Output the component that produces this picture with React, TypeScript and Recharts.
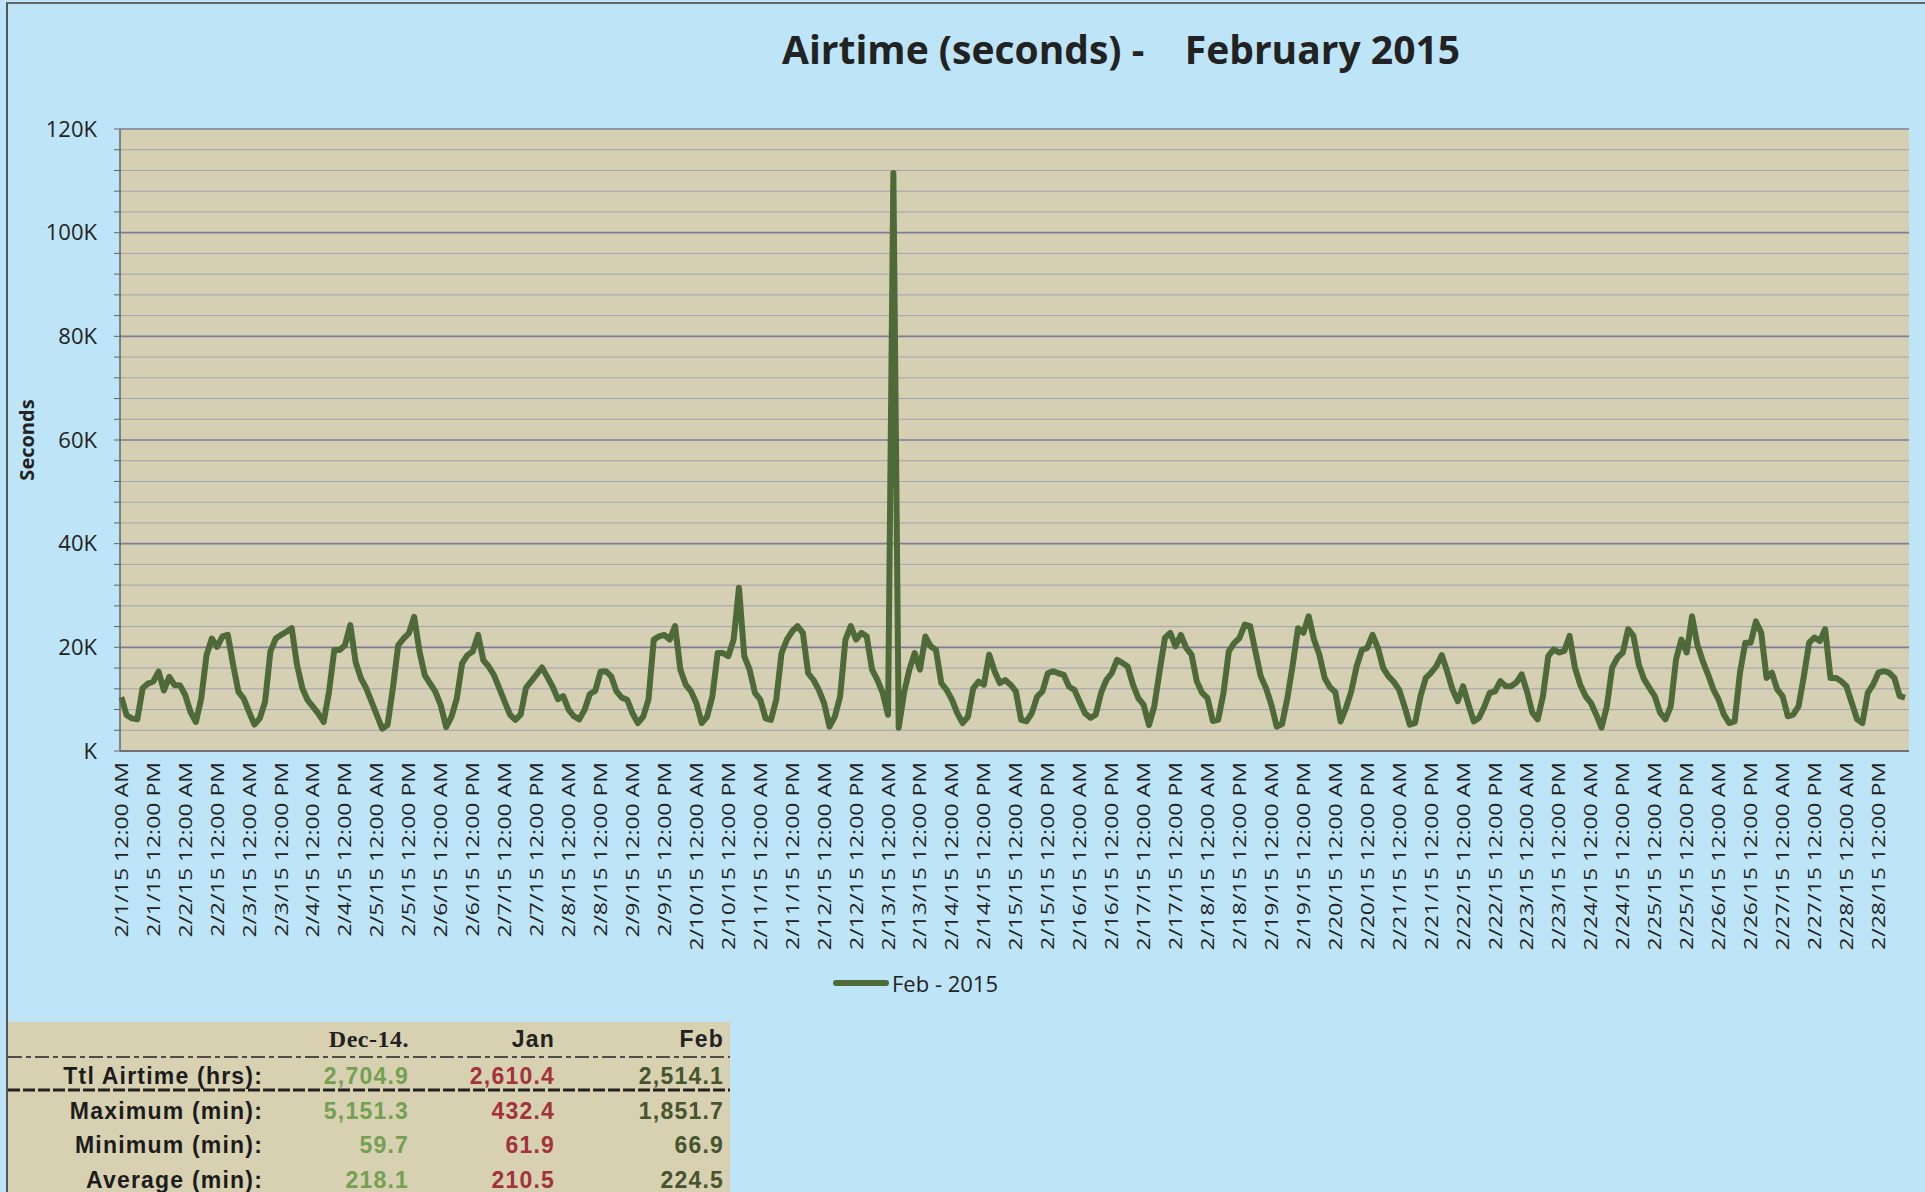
import { CartesianGrid, Legend, Line, LineChart, XAxis, YAxis } from "recharts";

// one label every 12 hours, Feb 1 - Feb 28 2015
const dayCount = 28;
const halfDayNames = ["12:00 AM", "12:00 PM"];
const tickLabels: string[] = [];
for (let d = 1; d <= dayCount; d++) {
  for (const h of halfDayNames) tickLabels.push(`2/${d}/15 ${h}`);
}
const tickHours = tickLabels.map((_, i) => i * 12);

// airtime in thousands of seconds, one reading every 2 hours starting 2/1/15 12:00 AM
// (12 readings per row = one day)
const airtimeK = [
  10.4, 6.9, 6.3, 6.1, 12.1, 13.0, 13.4, 15.3, 11.7, 14.3, 12.7, 12.7,
  10.8, 7.5, 5.6, 10.1, 18.5, 21.7, 20.1, 22.1, 22.4, 16.6, 11.4, 10.1,
  7.5, 5.1, 6.3, 9.5, 19.2, 21.7, 22.4, 23.0, 23.7, 16.6, 12.1, 9.8,
  8.5, 7.2, 5.6, 11.4, 19.5, 19.5, 20.4, 24.3, 17.2, 14.0, 12.1, 9.5,
  6.9, 4.3, 5.0, 12.1, 20.4, 21.7, 22.7, 25.9, 19.2, 14.6, 13.0, 11.4,
  8.8, 4.6, 6.6, 10.1, 16.9, 18.5, 19.2, 22.4, 17.5, 16.3, 14.6, 12.1,
  9.5, 7.0, 6.0, 7.0, 12.2, 13.5, 14.8, 16.1, 14.3, 12.4, 10.0, 10.6,
  8.0, 6.7, 6.1, 7.9, 11.0, 11.6, 15.3, 15.4, 14.4, 11.5, 10.3, 9.9,
  7.3, 5.4, 6.6, 9.9, 21.5, 22.1, 22.4, 21.5, 24.1, 15.7, 12.8, 11.5,
  9.2, 5.4, 6.6, 10.5, 18.9, 18.9, 18.3, 21.5, 31.5, 18.3, 15.7, 11.2,
  9.9, 6.3, 6.0, 9.9, 18.9, 21.5, 23.1, 24.1, 22.8, 15.0, 13.7, 11.8,
  9.2, 4.7, 6.6, 10.5, 21.5, 24.1, 21.5, 22.8, 22.1, 15.7, 13.7, 11.2,
  7.0, 111.5, 4.5, 11.2, 15.7, 18.9, 15.7, 22.1, 20.2, 19.5, 13.1, 11.8,
  9.9, 7.3, 5.4, 6.6, 12.1, 13.4, 12.8, 18.6, 15.4, 13.1, 13.7, 12.8,
  11.5, 6.0, 5.7, 7.3, 10.5, 11.5, 15.0, 15.4, 15.0, 14.7, 12.4, 11.8,
  9.5, 7.3, 6.4, 7.0, 11.2, 13.7, 15.0, 17.6, 17.0, 16.3, 12.8, 10.2,
  8.9, 5.0, 8.6, 15.4, 21.8, 22.8, 20.2, 22.4, 19.9, 18.6, 13.4, 11.2,
  10.2, 5.8, 6.0, 11.2, 19.2, 20.8, 21.8, 24.4, 24.1, 19.2, 14.4, 12.1,
  8.9, 4.7, 5.2, 10.2, 16.6, 23.7, 22.8, 26.0, 21.5, 18.6, 14.1, 12.3,
  11.4, 5.7, 8.3, 11.5, 16.3, 19.5, 19.9, 22.4, 19.9, 16.0, 14.4, 13.3,
  11.8, 8.6, 5.1, 5.4, 10.6, 14.1, 15.1, 16.4, 18.5, 15.4, 11.9, 9.6,
  12.5, 9.0, 5.7, 6.4, 8.6, 11.2, 11.5, 13.5, 12.5, 12.5, 13.2, 14.8,
  11.5, 7.4, 6.1, 10.6, 18.3, 19.6, 19.0, 19.3, 22.2, 16.1, 12.8, 10.6,
  9.3, 7.0, 4.5, 8.6, 16.1, 18.0, 19.0, 23.5, 22.2, 16.7, 13.8, 12.2,
  10.6, 7.4, 6.1, 8.6, 17.7, 21.5, 19.0, 26.0, 20.5, 17.4, 14.8, 11.9,
  9.9, 7.0, 5.4, 5.7, 15.1, 20.9, 20.9, 25.0, 22.8, 14.1, 15.1, 11.9,
  10.6, 6.7, 7.0, 8.6, 14.4, 20.9, 21.9, 21.2, 23.5, 14.1, 14.1, 13.5,
  12.5, 9.3, 6.1, 5.4, 11.2, 12.8, 15.1, 15.4, 15.1, 14.1, 10.6, 10.3,
];
const sampleHours = airtimeK.map((_, i) => i * 2);

const yTicks = [
  0, 4, 8, 12, 16, 20, 24, 28, 32, 36, 40, 44, 48, 52, 56, 60,
  64, 68, 72, 76, 80, 84, 88, 92, 96, 100, 104, 108, 112, 116, 120,
];

const chartData = airtimeK.map((v, i) => ({ hour: sampleHours[i], airtime: v }));

// summary table below the chart
const summaryCols = ["Dec-14.", "Jan", "Feb"];
const summaryRows = [
  { label: "Ttl Airtime (hrs):", values: ["2,704.9", "2,610.4", "2,514.1"] },
  { label: "Maximum (min):", values: ["5,151.3", "432.4", "1,851.7"] },
  { label: "Minimum (min):", values: ["59.7", "61.9", "66.9"] },
  { label: "Average (min):", values: ["218.1", "210.5", "224.5"] },
];
const colColors = ["#74a052", "#a3323c", "#46552e"];

const SANS = "'Open Sans', sans-serif";
const ARIAL = "'Liberation Sans', Arial, sans-serif";
const LINE_COLOR = "#4f6a39";

function TimeTick({ x, y, payload }: any) {
  const label = tickLabels[Math.round(payload.value / 12)];
  return (
    <g transform={`translate(${x},${y + 11})`}>
      <text
        transform="rotate(-90) scale(1.28,1)"
        textAnchor="end"
        dy="0.36em"
        fontFamily={SANS}
        fontSize={18}
        fill="#222"
      >
        {label}
      </text>
    </g>
  );
}

function GridLine(props: any) {
  const major = props.index % 5 === 0;
  return (
    <line
      key={props.key}
      x1={props.x1}
      y1={props.y1}
      x2={props.x2}
      y2={props.y2}
      stroke={major ? "#7f7c95" : "#a4a2b0"}
      strokeWidth={major ? 1.6 : 1}
    />
  );
}

function LegendBox({ payload }: any) {
  return (
    <div style={{ display: "flex", alignItems: "center" }}>
      {(payload || []).map((p: any) => (
        <div key={p.value} style={{ display: "flex", alignItems: "center" }}>
          <svg width={56} height={10}>
            <line x1={3} y1={5} x2={53} y2={5} stroke={p.color} strokeWidth={6} strokeLinecap="round" />
          </svg>
          <span style={{ fontFamily: SANS, fontSize: 22, color: "#222", marginLeft: 3 }}>{p.value}</span>
        </div>
      ))}
    </div>
  );
}

function Separator({ top, thick }: { top: number; thick?: boolean }) {
  return (
    <svg style={{ position: "absolute", left: 0, top }} width={722} height={4}>
      <line
        x1={0}
        y1={2}
        x2={722}
        y2={2}
        stroke="#222"
        strokeWidth={thick ? 3 : 1.6}
        strokeDasharray={thick ? "12 3" : "14 4 5 4"}
      />
    </svg>
  );
}

function SummaryTable() {
  const cols = "255px 146px 146px 169px";
  const rowTops = [1061, 1096, 1130, 1165];
  return (
    <div
      style={{
        position: "absolute",
        left: 8,
        top: 1022,
        width: 722,
        height: 180,
        background: "#d7d1b1",
        fontFamily: ARIAL,
        fontWeight: 700,
        fontSize: 23,
        letterSpacing: 1.2,
      }}
    >
      <div
        style={{
          position: "absolute",
          top: 2,
          left: 0,
          display: "grid",
          gridTemplateColumns: cols,
          lineHeight: "30px",
          textAlign: "right",
          color: "#222",
        }}
      >
        <div />
        {summaryCols.map((c, i) => (
          <div
            key={c}
            style={i === 0 ? { fontFamily: "'Liberation Serif', serif", fontSize: 24, letterSpacing: 0.5 } : {}}
          >
            {c}
          </div>
        ))}
      </div>
      <Separator top={33} />
      <Separator top={66} thick />
      {summaryRows.map((r, ri) => (
        <div
          key={r.label}
          style={{
            position: "absolute",
            top: rowTops[ri] - 1022,
            left: 0,
            display: "grid",
            gridTemplateColumns: cols,
            lineHeight: "30px",
            textAlign: "right",
          }}
        >
          <div style={{ color: "#1c1c1c" }}>{r.label}</div>
          {r.values.map((v, ci) => (
            <div key={ci} style={{ color: colColors[ci] }}>
              {v}
            </div>
          ))}
        </div>
      ))}
    </div>
  );
}

export default function App() {
  return (
    <div
      style={{
        position: "absolute",
        left: 0,
        top: 0,
        width: 1925,
        height: 1192,
        overflow: "hidden",
        background: "#bde4f7",
      }}
    >
      <div
        style={{
          position: "absolute",
          left: 6,
          top: 2,
          right: 0,
          bottom: 0,
          borderLeft: "2px solid #555",
          borderTop: "2px solid #666",
        }}
      />
      <div
        style={{
          position: "absolute",
          left: 782,
          top: 24,
          fontFamily: SANS,
          fontWeight: 700,
          fontSize: 39,
          lineHeight: "50px",
          whiteSpace: "pre",
          color: "#222",
        }}
      >
        {"Airtime (seconds) -    February 2015"}
      </div>
      <div style={{ position: "absolute", left: 0, top: 0 }}>
        <LineChart
          width={1925}
          height={1192}
          data={chartData}
          margin={{ top: 129, right: 16, bottom: 211, left: 0 }}
        >
          <CartesianGrid vertical={false} horizontal={GridLine} fill="#d5cfb3" />
          <XAxis
            dataKey="hour"
            type="number"
            domain={[-0.5, 671.5]}
            ticks={tickHours}
            interval={0}
            tickLine={false}
            tickSize={0}
            tickMargin={0}
            height={230}
            axisLine={{ stroke: "#666", strokeWidth: 1.5 }}
            tick={<TimeTick />}
          />
          <YAxis
            type="number"
            domain={[0, 120]}
            ticks={yTicks}
            interval={0}
            width={120}
            tickSize={6}
            tickMargin={17}
            axisLine={{ stroke: "#666", strokeWidth: 1.5 }}
            tickLine={{ stroke: "#666" }}
            tick={{ fontFamily: SANS, fontSize: 22, fill: "#222" }}
            tickFormatter={(v: number) => (v % 20 === 0 ? (v === 0 ? "K" : `${v}K`) : "")}
            label={({ viewBox }: any) => (
              <text
                transform={`translate(27,${viewBox.y + viewBox.height / 2}) rotate(-90)`}
                textAnchor="middle"
                dy="0.36em"
                fontFamily={SANS}
                fontWeight={700}
                fontSize={20}
                fill="#222"
              >
                Seconds
              </text>
            )}
          />
          <Legend
            verticalAlign="middle"
            align="center"
            layout="horizontal"
            wrapperStyle={{ position: "absolute", left: 833, top: 968, width: "auto" }}
            content={<LegendBox />}
          />
          <Line
            type="linear"
            dataKey="airtime"
            name="Feb - 2015"
            stroke={LINE_COLOR}
            strokeWidth={6}
            strokeLinejoin="round"
            dot={false}
            activeDot={false}
            isAnimationActive={false}
          />
        </LineChart>
      </div>
      <SummaryTable />
    </div>
  );
}
